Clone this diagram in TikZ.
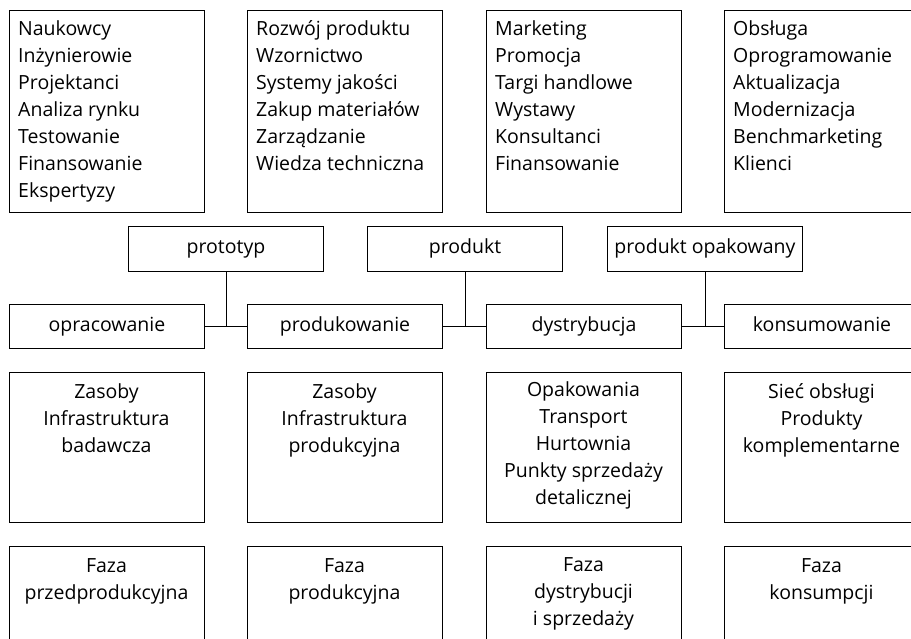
\documentclass[tikz,border=0pt]{standalone}
\usepackage{fontspec}
\setmainfont{Open Sans}
\usetikzlibrary{positioning}

\tikzset{
  box/.style={draw, line width=1pt, anchor=north west, minimum width=195pt, inner sep=0pt},
  listbox/.style={box, minimum height=202pt},
  tagbox/.style={box, minimum height=45pt, text height=14pt, text depth=4pt},
  stagebox/.style={box, minimum height=44pt, text height=14pt, text depth=4pt},
  resbox/.style={box, minimum height=150pt},
  phasebox/.style={box, minimum height=100pt},
  listtext/.style={anchor=base west, align=left, inner sep=0pt},
  midtext/.style={anchor=base, align=center, inner sep=0pt},
  link/.style={line width=1pt},
}

\begin{document}
\begin{tikzpicture}[x=1pt,y=-1pt,every node/.append style={font=\fontsize{19.5}{27}\selectfont}]
\useasboundingbox (0,0) rectangle (911,639);
\clip (0,0) rectangle (911,639);
% top row: who takes part (texts placed by their last line)
\node[listbox] (lst1) at (9,10) {};
\node[listbox] (lst2) at (247,10) {};
\node[listbox] (lst3) at (486,10) {};
\node[listbox] (lst4) at (724,10) {};
\node[listtext] (lst1txt) at (18,198) {Naukowcy\\Inżynierowie\\Projektanci\\Analiza rynku\\Testowanie\\Finansowanie\\Ekspertyzy};
\node[listtext] (lst2txt) at (256,171) {Rozwój produktu\\Wzornictwo\\Systemy jakości\\Zakup materiałów\\Zarządzanie\\Wiedza techniczna};
\node[listtext] (lst3txt) at (495,171) {Marketing\\Promocja\\Targi handlowe\\Wystawy\\Konsultanci\\Finansowanie};
\node[listtext] (lst4txt) at (733,171) {Obsługa\\Oprogramowanie\\Aktualizacja\\Modernizacja\\Benchmarketing\\Klienci};
% what comes out
\node[tagbox] (tag1) at (128,226) {prototyp};
\node[tagbox] (tag2) at (367,226) {produkt};
\node[tagbox] (tag3) at (607,226) {produkt opakowany};
% stages
\node[stagebox] (stg1) at (9,304) {opracowanie};
\node[stagebox] (stg2) at (247,304) {produkowanie};
\node[stagebox] (stg3) at (486,304) {dystrybucja};
\node[stagebox] (stg4) at (724,304) {konsumowanie};
\draw[link] (stg1.east) -- (stg2.west);
\draw[link] (stg2.east) -- (stg3.west);
\draw[link] (stg3.east) -- (stg4.west);
\draw[link] (tag1.south) -- (tag1.south |- stg1.east);
\draw[link] (tag2.south) -- (tag2.south |- stg2.east);
\draw[link] (tag3.south) -- (tag3.south |- stg3.east);
% resources
\node[resbox] (res1) at (9,372) {};
\node[resbox] (res2) at (247,372) {};
\node[resbox] (res3) at (486,372) {};
\node[resbox] (res4) at (724,372) {};
\node[midtext] (res1txt) at (106.5,452) {Zasoby\\Infrastruktura\\badawcza};
\node[midtext] (res2txt) at (344.5,452) {Zasoby\\Infrastruktura\\produkcyjna};
\node[midtext] (res3txt) at (583.5,504) {Opakowania\\Transport\\Hurtownia\\Punkty sprzedaży\\detalicznej};
\node[midtext] (res4txt) at (821.5,452) {Sieć obsługi\\Produkty\\komplementarne};
% phases
\node[phasebox] (ph1) at (9,546) {};
\node[phasebox] (ph2) at (247,546) {};
\node[phasebox] (ph3) at (486,546) {};
\node[phasebox] (ph4) at (724,546) {};
\node[midtext] (ph1txt) at (106.5,599) {Faza\\przedprodukcyjna};
\node[midtext] (ph2txt) at (344.5,599) {Faza\\produkcyjna};
\node[midtext] (ph3txt) at (583.5,625) {Faza\\dystrybucji\\i sprzedaży};
\node[midtext] (ph4txt) at (821.5,599) {Faza\\konsumpcji};
\end{tikzpicture}
\end{document}
